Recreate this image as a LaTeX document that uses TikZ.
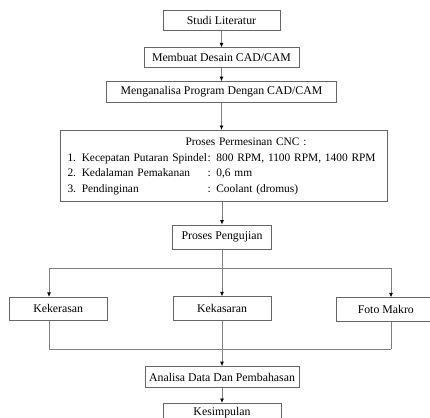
\documentclass[tikz,border=0pt]{standalone}
\usepackage{fontspec}
\setmainfont{Liberation Serif}
\usetikzlibrary{positioning, calc, arrows.meta}
\colorlet{boxgray}{black!60}
\colorlet{linegray}{black!50}

\begin{document}
\begin{tikzpicture}[x=1pt, y=1pt,
    font=\fontsize{11.8}{15.7}\selectfont,
    stepbox/.style={rectangle,
      draw=boxgray,
      line width=0.8pt,
      minimum height=20pt,
      inner sep=2pt,
      anchor=center,
      align=center},
    link/.style={draw=linegray, line width=0.8pt},
    arrow/.style={link, -{Latex[length=4.5pt,width=4pt,color=black]}}]

  \useasboundingbox (0,0) rectangle (430,-417);
  \clip (0,0) rectangle (430,-417);

% STEPS

  \node [stepbox, minimum width=117pt] at (221.5,-20) (studi) {Studi Literatur};

  \node [stepbox, minimum width=155pt, 
    below=17pt of studi] (desain) {Membuat Desain CAD/CAM};

  \node [stepbox, minimum width=230pt, minimum height=21pt, 
    below=13pt of desain] (program) {Menganalisa Program Dengan CAD/CAM};

  \node [stepbox, text width=313pt, inner xsep=7pt, inner ysep=4pt, 
    align=left, font=\fontsize{11.4}{15.7}\selectfont, 
    below=27pt of program, xshift=2.5pt] (cnc) {%
    \begin{tabular}{@{}p{140pt}@{}l@{}}
      \multicolumn{2}{@{}l@{}}{\hspace*{118pt}Proses Permesinan CNC :}\\
      1. Kecepatan Putaran Spindel & : 800 RPM, 1100 RPM, 1400 RPM\\
      2. Kedalaman Pemakanan & : 0,6 mm\\
      3. Pendinginan & : Coolant (dromus)
    \end{tabular}%
  };

  \node [stepbox, minimum width=99pt, minimum height=24pt, 
    below=23pt of cnc, xshift=-2pt] (pengujian) {Proses Pengujian};

  % TESTS

  \node [stepbox, minimum width=98pt, minimum height=24pt, 
    below=47pt of pengujian] (kekasaran) {Kekasaran};

  \node [stepbox, minimum width=98pt, minimum height=23pt, 
    left=65pt of kekasaran] (kekerasan) {Kekerasan};

  \node [stepbox, minimum width=98pt, minimum height=24pt, 
    right=65pt of kekasaran, yshift=-1pt] (makro) {Foto Makro};

  \node [stepbox, minimum width=154pt, minimum height=21pt, 
    below=45pt of kekasaran] (analisa) {Analisa Data Dan Pembahasan};

  \node [stepbox, minimum width=118pt, minimum height=18pt, 
    below=15pt of analisa] (simpulan) {Kesimpulan};

  % CONNECTORS

  \draw[arrow] (studi) -- (desain);
  \draw[arrow] (desain) -- (program);
  \draw[arrow] (program.south -| desain) -- (cnc.north -| desain);
  \draw[arrow] (cnc.south -| pengujian) -- (pengujian);

  \coordinate (split) at ($(pengujian.south) + (0,-19)$);
  \coordinate (splitleft) at (49,0 |- split);
  \coordinate (splitright) at (391,0 |- split);
  \draw[link] (pengujian) -- (split);
  \draw[link] (splitleft) -- (splitright);
  \draw[arrow] (splitleft) -- (splitleft |- kekerasan.north);
  \draw[arrow] (split) -- (kekasaran);
  \draw[arrow] (splitright) -- (splitright |- makro.north);

  \coordinate (merge) at ($(kekasaran.south) + (0,-28)$);
  \coordinate (mergeleft) at (49,0 |- merge);
  \coordinate (mergeright) at (391,0 |- merge);
  \draw[link] (splitleft |- kekerasan.south) -- (mergeleft);
  \draw[link] (kekasaran) -- (merge);
  \draw[link] (splitright |- makro.south) -- (mergeright);
  \draw[link] (mergeleft) -- (mergeright);
  \draw[arrow] (merge) -- (analisa);
  \draw[arrow] (analisa) -- (simpulan);

\end{tikzpicture}
\end{document}
